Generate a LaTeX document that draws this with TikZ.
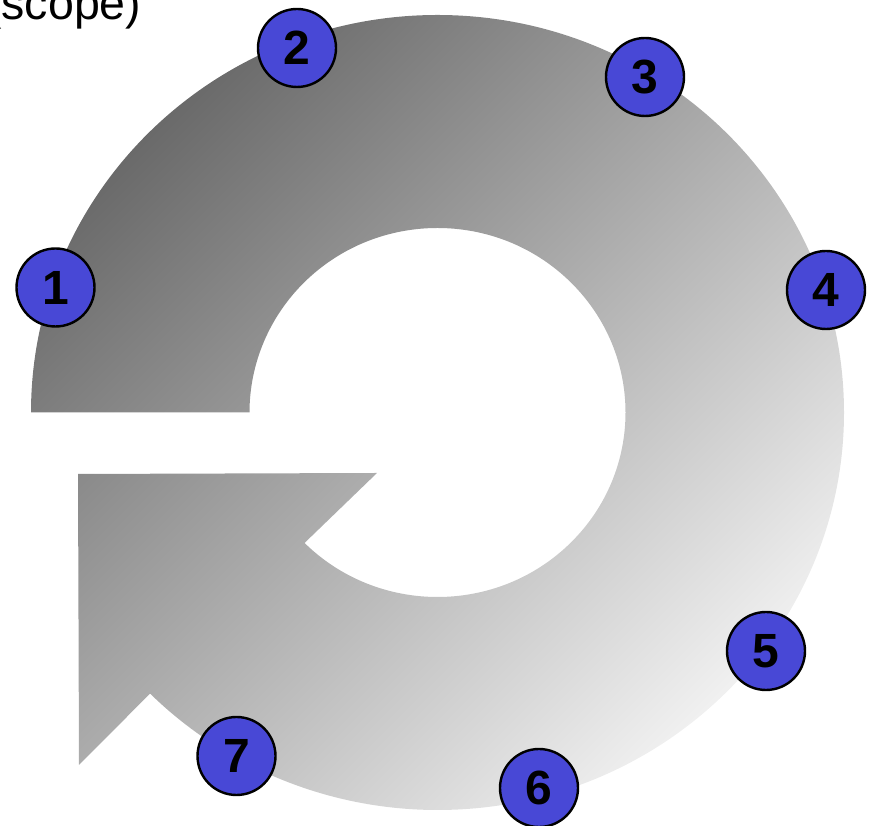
\documentclass[tikz,border=0pt]{standalone}
\usepackage{fontspec}
\setmainfont{Liberation Sans}
\definecolor{numblue}{RGB}{72,72,214}
\definecolor{ringdark}{RGB}{106,106,106}
\definecolor{ringlight}{RGB}{240,240,240}
\begin{document}
\begin{tikzpicture}[x=1pt,y=1pt,
  numcirc/.style={circle, draw=black, line width=2.4pt, fill=numblue,
    minimum size=78pt, inner sep=0pt, text=black,
    font=\fontsize{48}{48}\selectfont\bfseries},
  ringshade/.style={top color=ringdark, bottom color=ringlight, shading angle=45}]
\useasboundingbox (0,0) rectangle (870,826);
% ring arrow
\coordinate (ostart) at (31,413.5);
\coordinate (tipA) at (79,61);
\coordinate (tipB) at (78,352);
\coordinate (tipC) at (377,353);
\coordinate (iend) at ({437.5-188*0.7071},{413.5-184.5*0.7071});
\shade[ringshade] (ostart) arc[start angle=180, end angle=-135, x radius=406.5, y radius=397.5]
  -- (tipA) -- (tipB) -- (tipC) -- (iend)
  arc[start angle=-135, end angle=180, x radius=188, y radius=184.5] -- cycle;
% title (cut off at the top-left edge, as in the reference)
\node[anchor=base west, inner sep=0pt, font=\fontsize{46.5}{46.5}\selectfont] (title) at (-14,806) {(scope)};
% numbered circles
\node[numcirc] (n1) at (55.5,538.5) {1};
\node[numcirc] (n2) at (297,778) {2};
\node[numcirc] (n3) at (645,749) {3};
\node[numcirc] (n4) at (826,536) {4};
\node[numcirc] (n5) at (766,175) {5};
\node[numcirc] (n6) at (539,38) {6};
\node[numcirc] (n7) at (236.5,70) {7};
\end{tikzpicture}
\end{document}
